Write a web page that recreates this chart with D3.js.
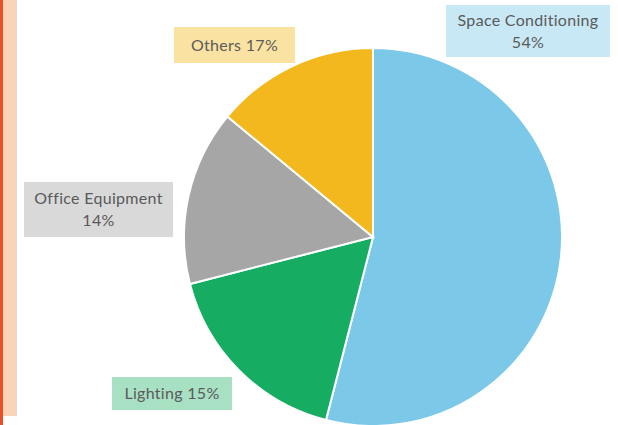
<!DOCTYPE html>
<meta charset="utf-8">
<script src="https://d3js.org/d3.v7.min.js"></script>
<style>
  body { margin: 0; background: #fff; overflow: hidden; }
  text { font-family: Lato, "Noto Sans", sans-serif; }
</style>
<body>
<div id="chart"></div>
<script>
// slice sizes as drawn (clockwise from 12 o'clock)
const categories = ["Space Conditioning", "Lighting", "Office Equipment", "Others"];
const shares = [54, 17, 15, 14];
// percentages printed in the labels
const labelPct = ["54%", "15%", "14%", "17%"];
const sliceColors = ["#7bc8e8", "#16ad63", "#a6a6a6", "#f2b81e"];
const boxColors = ["#c9e8f5", "#a8e0c4", "#d9d9d9", "#fae3a2"];

const width = 618, height = 425;
const cx = 373, cy = 237, radius = 189;

const svg = d3.select("#chart").append("svg")
  .attr("width", width)
  .attr("height", height)
  .style("display", "block");

// left edge decoration
svg.append("rect").attr("x", 0).attr("y", 0).attr("width", 16).attr("height", 416).attr("fill", "#f9d4b6");
svg.append("rect").attr("x", 0).attr("y", 0).attr("width", 3).attr("height", 425).attr("fill", "#ea4f2a");
svg.append("rect").attr("x", 16).attr("y", 0).attr("width", 1).attr("height", 416).attr("fill", "#dcdcdc");

const pie = d3.pie().sort(null).value(d => d);
const arc = d3.arc().innerRadius(0).outerRadius(radius);

const g = svg.append("g").attr("transform", `translate(${cx},${cy})`);
g.selectAll("path")
  .data(pie(shares))
  .join("path")
    .attr("d", arc)
    .attr("fill", (d, i) => sliceColors[i])
    .attr("stroke", "#fff")
    .attr("stroke-width", 2);

// label boxes: [x, y, w, h, lines]
const labels = [
  {box: [446, 5, 164, 52], lines: [categories[0], labelPct[0]]},
  {box: [112, 377, 120, 33], lines: [categories[1] + " " + labelPct[1]]},
  {box: [24, 182, 149, 55], lines: [categories[2], labelPct[2]]},
  {box: [174, 27, 121, 36], lines: [categories[3] + " " + labelPct[3]]}
];

const lg = svg.selectAll("g.lab")
  .data(labels)
  .join("g")
    .attr("class", "lab");

lg.append("rect")
  .attr("x", d => d.box[0])
  .attr("y", d => d.box[1])
  .attr("width", d => d.box[2])
  .attr("height", d => d.box[3])
  .attr("fill", (d, i) => boxColors[i]);

lg.each(function(d) {
  const n = d.lines.length;
  const midY = d.box[1] + d.box[3] / 2;
  d3.select(this).selectAll("text")
    .data(d.lines)
    .join("text")
      .attr("x", d.box[0] + d.box[2] / 2)
      .attr("y", (t, j) => midY + (j - (n - 1) / 2) * 22)
      .attr("dy", "0.35em")
      .attr("text-anchor", "middle")
      .attr("font-size", 16)
      .attr("letter-spacing", 0.3)
      .attr("fill", "#5a5a5a")
      .text(t => t);
});
</script>
</body>
